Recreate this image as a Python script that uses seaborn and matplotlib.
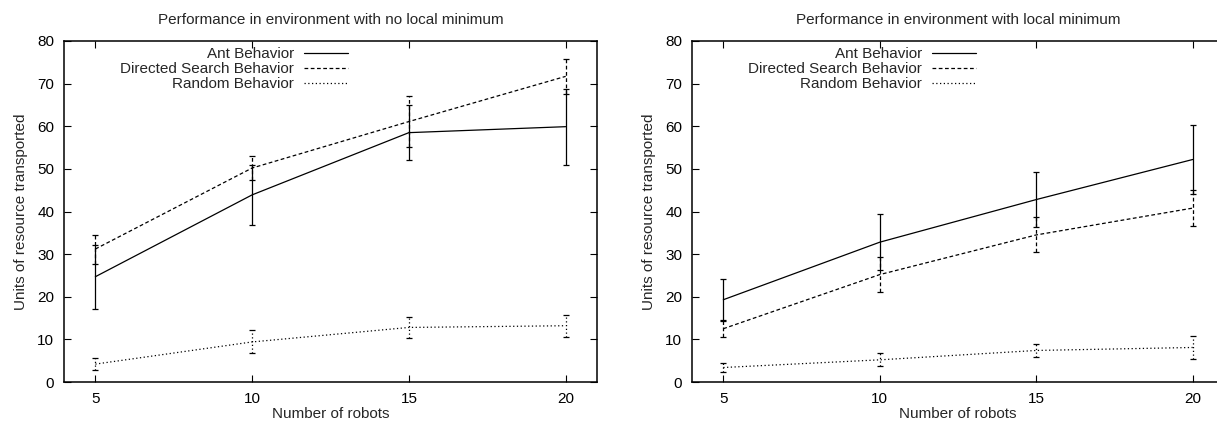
import numpy as np
import pandas as pd
import matplotlib
matplotlib.use("Agg")
import matplotlib.pyplot as plt
import seaborn as sns

# --- DATA ---
robots = [5, 10, 15, 20]
behaviors = ["Ant Behavior", "Directed Search Behavior", "Random Behavior"]

# environment with no local minimum
ant_nolm = [24.7, 43.9, 58.5, 59.9]
ant_nolm_err = [7.5, 7.0, 6.4, 8.9]
dir_nolm = [31.2, 50.2, 61.1, 71.7]
dir_nolm_err = [3.4, 2.9, 5.9, 4.1]
rnd_nolm = [4.2, 9.4, 12.8, 13.2]
rnd_nolm_err = [1.5, 2.7, 2.5, 2.6]

# environment with local minimum
ant_lm = [19.3, 32.8, 42.8, 52.2]
ant_lm_err = [4.9, 6.5, 6.5, 8.2]
dir_lm = [12.5, 25.2, 34.5, 40.8]
dir_lm_err = [2.0, 4.1, 4.1, 4.3]
rnd_lm = [3.4, 5.2, 7.4, 8.1]
rnd_lm_err = [1.0, 1.5, 1.6, 2.6]

titles = ["Performance in environment with no local minimum",
          "Performance in environment with local minimum"]

# --- STYLE ---
sns.set_style("ticks")
plt.rcParams["font.family"] = ["Liberation Sans", "DejaVu Sans"]
dashes = {
    "Ant Behavior": "",
    "Directed Search Behavior": (3, 2),
    "Random Behavior": (1, 2),
}
err_styles = {
    "Ant Behavior": "-",
    "Directed Search Behavior": (0, (3, 2)),
    "Random Behavior": (0, (1, 2)),
}


def build_frame(means, errs):
    rows = []
    for name, m, e in zip(behaviors, means, errs):
        for x, y, d in zip(robots, m, e):
            rows.append({"robots": x, "value": y, "err": d, "behavior": name})
    return pd.DataFrame(rows)


frames = [
    build_frame([ant_nolm, dir_nolm, rnd_nolm], [ant_nolm_err, dir_nolm_err, rnd_nolm_err]),
    build_frame([ant_lm, dir_lm, rnd_lm], [ant_lm_err, dir_lm_err, rnd_lm_err]),
]

fig = plt.figure(figsize=(12.17, 4.30), dpi=100)
W, H = 1217.0, 430.0
# axes boxes in pixels: left, right, top, bottom (right panel is cut off at the edge)
boxes = [(64, 597, 41, 382), (692, 1224, 41, 382)]

for ax_i, (df, title) in enumerate(zip(frames, titles)):
    l, r, t, b = boxes[ax_i]
    ax = fig.add_axes([l / W, 1 - b / H, (r - l) / W, (b - t) / H])

    sns.lineplot(data=df, x="robots", y="value", hue="behavior", style="behavior",
                 palette=["black"] * 3, dashes=dashes, linewidth=0.9, ax=ax)
    for name in behaviors:
        sub = df[df["behavior"] == name]
        _, caps, bars = ax.errorbar(sub["robots"], sub["value"], yerr=sub["err"],
                                    fmt="none", ecolor="black", elinewidth=0.9,
                                    capsize=2.5, capthick=0.9)
        for bc in bars:
            bc.set_linestyle(err_styles[name])

    ax.set_xlim(4, 21)
    ax.set_ylim(0, 80)
    ax.set_xticks(robots)
    ax.set_yticks(range(0, 81, 10))
    ax.tick_params(direction="in", top=True, right=True, length=5, width=0.8,
                   labelsize=11, pad=7, colors="black")
    for s in ax.spines.values():
        s.set_linewidth(1.1)
        s.set_color("black")
    ax.set_title(title, fontsize=11, pad=12.5)
    ax.set_xlabel("Number of robots", fontsize=11, labelpad=1)
    ax.set_ylabel("Units of resource transported", fontsize=11, labelpad=7)

    handles, labels = ax.get_legend_handles_labels()
    ax.legend(handles, labels, loc="upper right",
              bbox_to_anchor=((l + 284) / W, 1 - 47 / H),
              bbox_transform=fig.transFigure,
              markerfirst=False, frameon=False, fontsize=11,
              handlelength=2.9, handletextpad=0.65, labelspacing=0.08,
              borderpad=0, borderaxespad=0)

fig.savefig("out.png", dpi=100)
